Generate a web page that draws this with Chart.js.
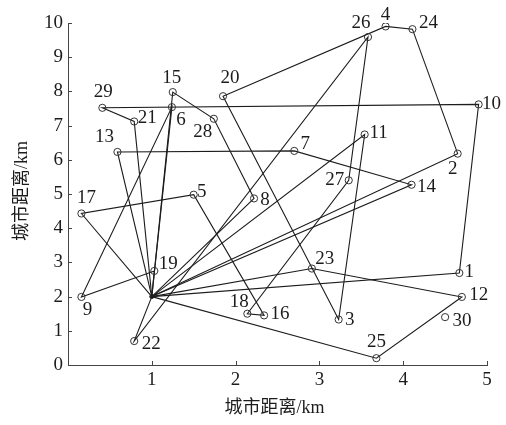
<!DOCTYPE html>
<html>
<head>
<meta charset="utf-8">
<script src="https://cdn.jsdelivr.net/npm/chart.js@4/dist/chart.umd.min.js"></script>
<style>
  html, body { margin: 0; padding: 0; background: #fff; }
  #wrap { width: 506px; height: 425px; position: relative; }
</style>
</head>
<body>
<div id="wrap"><canvas id="c" width="506" height="425"></canvas></div>
<script>
// City coordinates (km), city n is at index n-1
const cityX = [4.67, 4.65, 3.23, 3.79, 1.50, 1.24, 2.70, 2.22, 0.16, 4.90,
               3.54, 4.70, 0.59, 4.10, 1.25, 2.34, 0.16, 2.14, 1.03, 1.85,
               0.79, 0.79, 2.91, 4.11, 3.68, 3.58, 3.35, 1.74, 0.41, 4.50];
const cityY = [2.69, 6.18, 1.33, 9.90, 4.98, 7.54, 6.26, 4.87, 1.99, 7.62,
               6.74, 1.99, 6.23, 5.27, 7.98, 1.45, 4.43, 1.50, 2.75, 7.86,
               7.12, 0.70, 2.82, 9.82, 0.20, 9.59, 5.40, 7.20, 7.52, 1.40];
// Distribution centre
const depotX = 1.0;
const depotY = 2.0;
// Delivery routes: each leaves the centre, visits these cities in order, and returns
const routes = [
  [21, 29, 10, 1],
  [19, 9, 6],
  [15, 28, 8],
  [13, 7, 14],
  [11, 3, 20, 4, 24, 2],
  [22, 26, 27, 18, 16, 5, 17],
  [23, 12, 25]
];
const xTicks = [0, 1, 2, 3, 4, 5];
const yTicks = [0, 1, 2, 3, 4, 5, 6, 7, 8, 9, 10];
const axisTitle = '城市距离/km';

// Where each city number sits relative to its marker (px)
const labelDx = [10, -5, 11, 0, 8, 9, 11, 11, 6, 13,
                 14, 17, -13, 15, -1, 16, 5, -8, 14, 7,
                 13, 17, 13, 16, 0, -7, -14, -11, 1, 17];
const labelDy = [-1, 15, 1, -11, -3, 13, -7, 2, 13, 0,
                 -1, -2, -15, 2, -14, -1, -15, -12, -7, -18,
                 -3, 3, -10, -6, -16, -14, 0, 13, -16, 4];

const serif = '"Liberation Serif", "DejaVu Serif", serif';
const ink = '#1c1c1c';

const routeSets = routes.map(r => {
  const pts = [{ x: depotX, y: depotY }];
  r.forEach(n => pts.push({ x: cityX[n - 1], y: cityY[n - 1] }));
  pts.push({ x: depotX, y: depotY });
  return {
    type: 'line',
    data: pts,
    borderColor: ink,
    borderWidth: 1.1,
    pointRadius: 0,
    fill: false,
    tension: 0,
    order: 2
  };
});

const cityPoints = cityX.map((x, i) => ({ x: x, y: cityY[i] }));

const labelPlugin = {
  id: 'cityLabels',
  afterDatasetsDraw(chart) {
    const { ctx, scales } = chart;
    ctx.save();
    ctx.font = '19px ' + serif;
    ctx.fillStyle = ink;
    ctx.textAlign = 'center';
    ctx.textBaseline = 'middle';
    cityX.forEach((x, i) => {
      const px = scales.x.getPixelForValue(x);
      const py = scales.y.getPixelForValue(cityY[i]);
      ctx.fillText(String(i + 1), px + labelDx[i], py + labelDy[i]);
    });
    ctx.restore();
  }
};

const axisPlugin = {
  id: 'innerTicks',
  afterDraw(chart) {
    const { ctx, scales, chartArea } = chart;
    ctx.save();
    ctx.strokeStyle = '#444';
    ctx.lineWidth = 1;
    ctx.beginPath();
    xTicks.forEach(v => {
      const px = Math.round(scales.x.getPixelForValue(v)) + 0.5;
      ctx.moveTo(px, chartArea.bottom);
      ctx.lineTo(px, chartArea.bottom - 4);
    });
    yTicks.forEach(v => {
      const py = Math.round(scales.y.getPixelForValue(v)) + 0.5;
      ctx.moveTo(chartArea.left, py);
      ctx.lineTo(chartArea.left + 4, py);
    });
    ctx.stroke();

    ctx.fillStyle = ink;
    ctx.font = '18px ' + serif + ', "Noto Sans CJK SC"';
    ctx.textAlign = 'center';
    ctx.textBaseline = 'middle';
    ctx.fillText(axisTitle, (chartArea.left + chartArea.right) / 2 - 3, 408);
    ctx.translate(22, (chartArea.top + chartArea.bottom) / 2 - 3);
    ctx.rotate(-Math.PI / 2);
    ctx.fillText(axisTitle, 0, 0);
    ctx.restore();
  }
};

new Chart(document.getElementById('c'), {
  type: 'scatter',
  data: {
    datasets: [
      {
        data: cityPoints,
        pointStyle: 'circle',
        pointRadius: 3.6,
        pointBorderWidth: 1,
        pointBorderColor: '#333',
        pointBackgroundColor: 'rgba(255,255,255,0)',
        showLine: false,
        order: 1
      },
      {
        data: [{ x: depotX, y: depotY }],
        pointStyle: 'circle',
        pointRadius: 2,
        pointBackgroundColor: ink,
        pointBorderColor: ink,
        order: 1
      },
      ...routeSets
    ]
  },
  options: {
    responsive: false,
    animation: false,
    events: [],
    layout: { padding: { top: 23, right: 19, left: 0, bottom: 0 } },
    plugins: { legend: { display: false }, tooltip: { enabled: false } },
    scales: {
      x: {
        type: 'linear',
        min: 0,
        max: 5,
        afterBuildTicks: s => { s.ticks = xTicks.map(v => ({ value: v })); },
        ticks: {
          font: { family: serif, size: 19 },
          color: ink,
          padding: 4,
          maxRotation: 0,
          callback: v => (v === 0 ? '' : String(v))
        },
        grid: { display: false, drawTicks: false },
        border: { display: true, color: '#444', width: 1 },
        afterFit: s => { s.height = 60; }
      },
      y: {
        type: 'linear',
        min: 0,
        max: 10,
        afterBuildTicks: s => { s.ticks = yTicks.map(v => ({ value: v })); },
        ticks: {
          font: { family: serif, size: 19 },
          color: ink,
          padding: 5
        },
        grid: { display: false, drawTicks: false },
        border: { display: true, color: '#444', width: 1 },
        afterFit: s => { s.width = 68; }
      }
    }
  },
  plugins: [labelPlugin, axisPlugin]
});
</script>
</body>
</html>
